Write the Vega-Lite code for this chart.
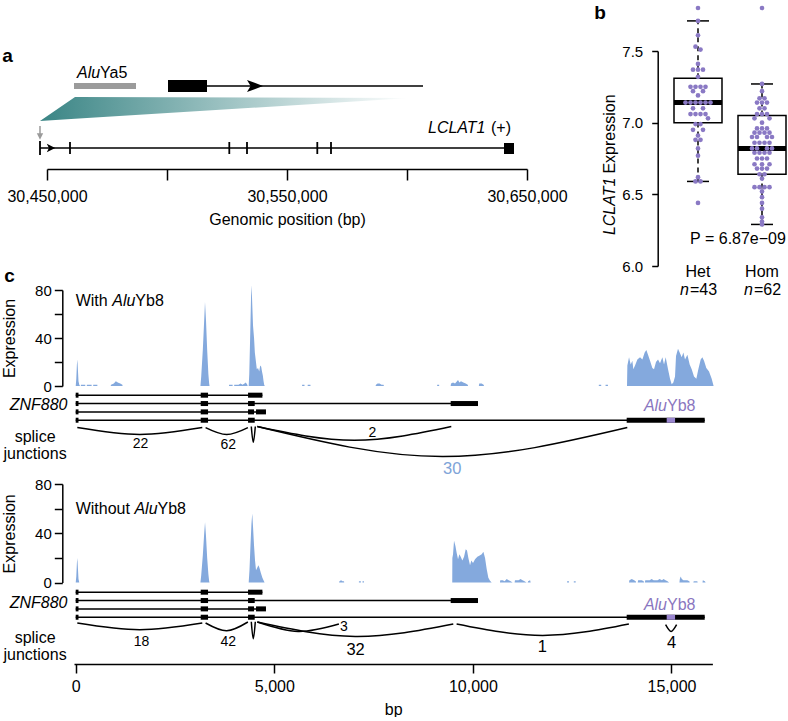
{
  "$schema": "https://vega.github.io/schema/vega-lite/v6.json",
  "padding": {"left": 1, "top": 4, "right": 0, "bottom": 0},
  "config": {
    "font": "Liberation Sans",
    "view": {"stroke": null},
    "axis": {
      "domainColor": "#000000", "tickColor": "#000000", "labelColor": "#000000", "titleColor": "#000000",
      "grid": false, "domainWidth": 1.5, "tickWidth": 1.5,
      "labelFontSize": 16, "titleFontSize": 16, "titleFontWeight": "normal",
      "labelFont": "Liberation Sans", "titleFont": "Liberation Sans", "labelFlush": false, "labelOverlap": false
    },
    "text": {"font": "Liberation Sans", "fontSize": 16, "color": "#000000"}
  },
  "datasets": {
    "cov1": [
      {"bp":0,"v":0},{"bp":15,"v":6},{"bp":30,"v":18},{"bp":42,"v":22},{"bp":55,"v":14},{"bp":70,"v":4},{"bp":90,"v":1},{"bp":110,"v":0},
      {"bp":130,"v":0},{"bp":131,"v":1},{"bp":240,"v":1},{"bp":241,"v":0},{"bp":280,"v":0},{"bp":281,"v":1},{"bp":400,"v":1},{"bp":401,"v":0},{"bp":440,"v":0},{"bp":441,"v":1},{"bp":545,"v":1},{"bp":546,"v":0},
      {"bp":880,"v":0},{"bp":890,"v":1},{"bp":960,"v":2},{"bp":1010,"v":4},{"bp":1060,"v":3},{"bp":1120,"v":2},{"bp":1175,"v":1},{"bp":1180,"v":0},
      {"bp":3140,"v":0},{"bp":3160,"v":8},{"bp":3200,"v":30},{"bp":3235,"v":55},{"bp":3255,"v":70},{"bp":3280,"v":55},{"bp":3310,"v":30},{"bp":3340,"v":10},{"bp":3360,"v":2},{"bp":3370,"v":0},
      {"bp":3860,"v":0},{"bp":3861,"v":1},{"bp":3950,"v":1},{"bp":3951,"v":0},{"bp":3990,"v":0},{"bp":3991,"v":1},{"bp":4100,"v":1},{"bp":4150,"v":2},{"bp":4200,"v":1},{"bp":4250,"v":2},{"bp":4280,"v":3},{"bp":4300,"v":2},{"bp":4320,"v":1},{"bp":4330,"v":0},
      {"bp":4355,"v":0},{"bp":4370,"v":10},{"bp":4395,"v":45},{"bp":4415,"v":75},{"bp":4428,"v":84},{"bp":4445,"v":68},{"bp":4465,"v":50},{"bp":4490,"v":40},{"bp":4510,"v":28},{"bp":4531,"v":22},{"bp":4560,"v":14},{"bp":4590,"v":15},{"bp":4620,"v":12},{"bp":4645,"v":17},{"bp":4670,"v":16},{"bp":4690,"v":12},{"bp":4710,"v":9},{"bp":4730,"v":4},{"bp":4745,"v":1},{"bp":4760,"v":0},
      {"bp":5700,"v":0},{"bp":5701,"v":1},{"bp":5760,"v":1},{"bp":5761,"v":0},{"bp":5840,"v":0},{"bp":5841,"v":1},{"bp":5910,"v":1},{"bp":5911,"v":0},
      {"bp":7550,"v":0},{"bp":7560,"v":1},{"bp":7600,"v":2},{"bp":7650,"v":2},{"bp":7700,"v":1},{"bp":7750,"v":1},{"bp":7760,"v":0},
      {"bp":9100,"v":0},{"bp":9101,"v":1},{"bp":9150,"v":1},{"bp":9151,"v":0},
      {"bp":9440,"v":0},{"bp":9450,"v":2},{"bp":9500,"v":3},{"bp":9550,"v":2},{"bp":9600,"v":4},{"bp":9625,"v":5},{"bp":9660,"v":3},{"bp":9700,"v":4},{"bp":9760,"v":3},{"bp":9820,"v":2},{"bp":9870,"v":1},{"bp":9880,"v":0},
      {"bp":10150,"v":0},{"bp":10160,"v":2},{"bp":10220,"v":2},{"bp":10270,"v":1},{"bp":10280,"v":0},
      {"bp":13170,"v":0},{"bp":13171,"v":1},{"bp":13230,"v":1},{"bp":13231,"v":0},{"bp":13340,"v":0},{"bp":13341,"v":1},{"bp":13400,"v":1},{"bp":13401,"v":0},
      {"bp":13880,"v":0},{"bp":13889,"v":17},{"bp":13931,"v":24},{"bp":13973,"v":18},{"bp":14015,"v":21},{"bp":14040,"v":14},{"bp":14082,"v":17},{"bp":14141,"v":22},{"bp":14208,"v":24},{"bp":14267,"v":22},{"bp":14325,"v":28},{"bp":14367,"v":30},{"bp":14409,"v":26},{"bp":14460,"v":21},{"bp":14518,"v":15},{"bp":14560,"v":14},{"bp":14610,"v":20},{"bp":14661,"v":22},{"bp":14711,"v":19},{"bp":14770,"v":24},{"bp":14812,"v":18},{"bp":14854,"v":24},{"bp":14913,"v":14},{"bp":14963,"v":6},{"bp":15005,"v":1.5},{"bp":15047,"v":3},{"bp":15089,"v":8},{"bp":15114,"v":25},{"bp":15164,"v":31},{"bp":15206,"v":28},{"bp":15257,"v":24},{"bp":15299,"v":28},{"bp":15341,"v":22},{"bp":15400,"v":26},{"bp":15458,"v":18},{"bp":15509,"v":14},{"bp":15567,"v":8},{"bp":15626,"v":6},{"bp":15676,"v":14},{"bp":15735,"v":22},{"bp":15777,"v":24},{"bp":15819,"v":21},{"bp":15877,"v":15},{"bp":15945,"v":12},{"bp":16012,"v":6},{"bp":16060,"v":0}
    ],
    "cov2": [
      {"bp":0,"v":0},{"bp":15,"v":5},{"bp":30,"v":16},{"bp":42,"v":20},{"bp":55,"v":12},{"bp":70,"v":3},{"bp":90,"v":0},
      {"bp":3140,"v":0},{"bp":3160,"v":6},{"bp":3200,"v":22},{"bp":3235,"v":40},{"bp":3256,"v":49},{"bp":3280,"v":38},{"bp":3310,"v":20},{"bp":3340,"v":7},{"bp":3360,"v":1},{"bp":3370,"v":0},
      {"bp":4355,"v":0},{"bp":4375,"v":10},{"bp":4400,"v":30},{"bp":4425,"v":48},{"bp":4445,"v":56},{"bp":4465,"v":45},{"bp":4490,"v":30},{"bp":4515,"v":18},{"bp":4540,"v":10},{"bp":4570,"v":12},{"bp":4600,"v":14},{"bp":4625,"v":12},{"bp":4660,"v":8},{"bp":4700,"v":4},{"bp":4740,"v":1},{"bp":4755,"v":0},
      {"bp":6630,"v":0},{"bp":6640,"v":1},{"bp":6680,"v":2},{"bp":6720,"v":1},{"bp":6755,"v":1},{"bp":6760,"v":0},{"bp":7130,"v":0},{"bp":7131,"v":1},{"bp":7180,"v":1},{"bp":7181,"v":0},{"bp":7220,"v":0},{"bp":7221,"v":1},{"bp":7258,"v":1},{"bp":7259,"v":0},
      {"bp":9480,"v":0},{"bp":9483,"v":20},{"bp":9500,"v":23},{"bp":9525,"v":34},{"bp":9559,"v":30},{"bp":9592,"v":24},{"bp":9626,"v":19},{"bp":9659,"v":23},{"bp":9693,"v":21},{"bp":9735,"v":18},{"bp":9777,"v":21},{"bp":9819,"v":27},{"bp":9852,"v":26},{"bp":9886,"v":20},{"bp":9928,"v":14},{"bp":9961,"v":18},{"bp":10003,"v":16},{"bp":10054,"v":19},{"bp":10112,"v":21},{"bp":10171,"v":22},{"bp":10222,"v":23},{"bp":10264,"v":25},{"bp":10306,"v":20},{"bp":10347,"v":11},{"bp":10389,"v":4},{"bp":10431,"v":1.5},{"bp":10473,"v":0},
      {"bp":10680,"v":0},{"bp":10690,"v":2},{"bp":10750,"v":2},{"bp":10800,"v":1},{"bp":10850,"v":3},{"bp":10900,"v":2},{"bp":10950,"v":1},{"bp":11000,"v":0},{"bp":11050,"v":0},{"bp":11060,"v":2},{"bp":11150,"v":2},{"bp":11200,"v":3},{"bp":11250,"v":2},{"bp":11300,"v":1},{"bp":11350,"v":0},{"bp":11380,"v":0},{"bp":11390,"v":1},{"bp":11440,"v":2},{"bp":11455,"v":0},
      {"bp":12370,"v":0},{"bp":12371,"v":1},{"bp":12420,"v":1},{"bp":12421,"v":0},{"bp":12540,"v":0},{"bp":12541,"v":1},{"bp":12588,"v":1},{"bp":12589,"v":0},
      {"bp":13930,"v":0},{"bp":13940,"v":2},{"bp":14000,"v":3},{"bp":14060,"v":2},{"bp":14100,"v":1},{"bp":14110,"v":0},{"bp":14150,"v":0},{"bp":14160,"v":2},{"bp":14250,"v":2},{"bp":14300,"v":1},{"bp":14310,"v":0},{"bp":14330,"v":0},{"bp":14340,"v":2},{"bp":14450,"v":2},{"bp":14500,"v":3},{"bp":14550,"v":2},{"bp":14650,"v":2},{"bp":14700,"v":3},{"bp":14760,"v":2},{"bp":14800,"v":3},{"bp":14850,"v":2},{"bp":14900,"v":1},{"bp":14940,"v":0},
      {"bp":15200,"v":0},{"bp":15210,"v":3},{"bp":15231,"v":5},{"bp":15260,"v":3},{"bp":15300,"v":2},{"bp":15400,"v":2},{"bp":15450,"v":1},{"bp":15460,"v":0},{"bp":15550,"v":0},{"bp":15560,"v":1},{"bp":15650,"v":1},{"bp":15660,"v":0},{"bp":15780,"v":0},{"bp":15790,"v":2},{"bp":15840,"v":1},{"bp":15860,"v":0}
    ],
    "genes": [
      {"tx":1,"s":0,"e":4700},{"tx":2,"s":0,"e":10128},{"tx":3,"s":0,"e":4790},{"tx":4,"s":0,"e":15836}
    ],
    "exons": [
      {"tx":1,"s":0,"e":70,"kind":"exon"},{"tx":1,"s":3147,"e":3332,"kind":"exon"},{"tx":1,"s":4339,"e":4700,"kind":"exon"},
      {"tx":2,"s":0,"e":70,"kind":"exon"},{"tx":2,"s":3147,"e":3332,"kind":"exon"},{"tx":2,"s":4339,"e":4507,"kind":"exon"},{"tx":2,"s":9441,"e":10128,"kind":"exon"},
      {"tx":3,"s":0,"e":70,"kind":"exon"},{"tx":3,"s":3147,"e":3332,"kind":"exon"},{"tx":3,"s":4339,"e":4490,"kind":"exon"},{"tx":3,"s":4540,"e":4790,"kind":"exon"},
      {"tx":4,"s":0,"e":70,"kind":"exon"},{"tx":4,"s":3147,"e":3332,"kind":"exon"},{"tx":4,"s":4339,"e":4507,"kind":"exon"},{"tx":4,"s":13872,"e":15836,"kind":"exon"},
      {"tx":4,"s":14879,"e":15090,"kind":"alu"}
    ],
    "j1": [
      {"j":"22","bp":40,"d":-1.4},{"j":"22","bp":1613,"d":5.5},{"j":"22","bp":3187,"d":-1.4},
      {"j":"62","bp":3270,"d":-1.4},{"j":"62","bp":3802,"d":5.5},{"j":"62","bp":4335,"d":-1.4},
      {"j":"v","bp":4421,"d":-2.5},{"j":"v","bp":4471,"d":13.3},{"j":"v","bp":4522,"d":-2.5},
      {"j":"2","bp":4572,"d":-2.4},{"j":"2","bp":7014,"d":11.3},{"j":"2","bp":9456,"d":-2.4},
      {"j":"30","bp":4572,"d":-2.4},{"j":"30","bp":9229,"d":27.6},{"j":"30","bp":13887,"d":-1.4}
    ],
    "j2": [
      {"j":"18","bp":40,"d":-3},{"j":"18","bp":1613,"d":3.7},{"j":"18","bp":3187,"d":-3},
      {"j":"42","bp":3270,"d":-3},{"j":"42","bp":3802,"d":4.7},{"j":"42","bp":4335,"d":-4},
      {"j":"v","bp":4421,"d":-4.3},{"j":"v","bp":4471,"d":12.7},{"j":"v","bp":4522,"d":-4.3},
      {"j":"3","bp":4572,"d":-4},{"j":"3","bp":5600,"d":5.4},{"j":"3","bp":6626,"d":-2},
      {"j":"32","bp":4572,"d":-4},{"j":"32","bp":7039,"d":10.4},{"j":"32","bp":9506,"d":-2},
      {"j":"1","bp":9590,"d":-2},{"j":"1","bp":11758,"d":9.4},{"j":"1","bp":13927,"d":-2},
      {"j":"4","bp":14852,"d":-1.3},{"j":"4","bp":14990,"d":5.4},{"j":"4","bp":15129,"d":-1.3}
    ],
    "jl1": [
      {"bp":1634,"d":15.3,"n":22,"grp":"s"},{"bp":3842,"d":16.3,"n":62,"grp":"s"},{"bp":7467,"d":4.3,"n":2,"grp":"s"},{"bp":9481,"d":39.6,"n":30,"grp":"h"}
    ],
    "jl2": [
      {"bp":1659,"d":16,"n":18,"grp":"s"},{"bp":3842,"d":16,"n":42,"grp":"s"},{"bp":6752,"d":1.4,"n":3,"grp":"s"},{"bp":7047,"d":23.7,"n":32,"grp":"b"},{"bp":11747,"d":21,"n":1,"grp":"b"},{"bp":15003,"d":17,"n":4,"grp":"b"}
    ],
    "box": [
      {"geno":"Het","lo":6.59,"q1":7.0,"med":7.14,"q3":7.31,"hi":7.71,"nlab":"=43"},
      {"geno":"Hom","lo":6.29,"q1":6.64,"med":6.82,"q3":7.05,"hi":7.27,"nlab":"=62"}
    ],
    "expr": [
      {"geno":"Het","v":7.80,"slot":0},{"geno":"Het","v":7.71,"slot":0},{"geno":"Het","v":7.61,"slot":0},
      {"geno":"Het","v":7.53,"slot":-0.5},{"geno":"Het","v":7.51,"slot":0.5},{"geno":"Het","v":7.41,"slot":0},
      {"geno":"Het","v":7.37,"slot":-1},{"geno":"Het","v":7.37,"slot":0},{"geno":"Het","v":7.37,"slot":1},
      {"geno":"Het","v":7.32,"slot":0},
      {"geno":"Het","v":7.25,"slot":-1.5},{"geno":"Het","v":7.25,"slot":-0.5},{"geno":"Het","v":7.25,"slot":0.5},{"geno":"Het","v":7.25,"slot":1.5},
      {"geno":"Het","v":7.22,"slot":-1},{"geno":"Het","v":7.22,"slot":1},{"geno":"Het","v":7.19,"slot":0},
      {"geno":"Het","v":7.14,"slot":-2.5},{"geno":"Het","v":7.14,"slot":-1.5},{"geno":"Het","v":7.14,"slot":-0.5},{"geno":"Het","v":7.14,"slot":0.5},{"geno":"Het","v":7.14,"slot":1.5},{"geno":"Het","v":7.14,"slot":2.5},
      {"geno":"Het","v":7.10,"slot":-1},{"geno":"Het","v":7.10,"slot":1},
      {"geno":"Het","v":7.06,"slot":-1.5},{"geno":"Het","v":7.06,"slot":-0.5},{"geno":"Het","v":7.06,"slot":0.5},{"geno":"Het","v":7.06,"slot":1.5},
      {"geno":"Het","v":7.03,"slot":2},{"geno":"Het","v":6.99,"slot":-0.5},{"geno":"Het","v":6.99,"slot":0.5},
      {"geno":"Het","v":6.95,"slot":-1},{"geno":"Het","v":6.95,"slot":1},{"geno":"Het","v":6.91,"slot":0},
      {"geno":"Het","v":6.88,"slot":-0.5},{"geno":"Het","v":6.88,"slot":0.5},{"geno":"Het","v":6.82,"slot":0},
      {"geno":"Het","v":6.77,"slot":0},{"geno":"Het","v":6.62,"slot":0},{"geno":"Het","v":6.59,"slot":-0.5},{"geno":"Het","v":6.59,"slot":0.5},
      {"geno":"Het","v":6.44,"slot":0},
      {"geno":"Hom","v":7.80,"slot":0},{"geno":"Hom","v":7.27,"slot":0},{"geno":"Hom","v":7.22,"slot":0},
      {"geno":"Hom","v":7.17,"slot":-0.5},{"geno":"Hom","v":7.17,"slot":0.5},
      {"geno":"Hom","v":7.14,"slot":-1},{"geno":"Hom","v":7.14,"slot":0},{"geno":"Hom","v":7.14,"slot":1},
      {"geno":"Hom","v":7.10,"slot":-0.5},{"geno":"Hom","v":7.10,"slot":0.5},
      {"geno":"Hom","v":7.06,"slot":-1},{"geno":"Hom","v":7.06,"slot":0},{"geno":"Hom","v":7.06,"slot":1},
      {"geno":"Hom","v":7.03,"slot":-1.5},{"geno":"Hom","v":7.03,"slot":1.5},{"geno":"Hom","v":7.00,"slot":0},
      {"geno":"Hom","v":6.96,"slot":-1},{"geno":"Hom","v":6.96,"slot":0},{"geno":"Hom","v":6.96,"slot":1},
      {"geno":"Hom","v":6.93,"slot":-1.5},{"geno":"Hom","v":6.93,"slot":-0.5},{"geno":"Hom","v":6.93,"slot":0.5},{"geno":"Hom","v":6.93,"slot":1.5},
      {"geno":"Hom","v":6.90,"slot":-2},{"geno":"Hom","v":6.90,"slot":-1},{"geno":"Hom","v":6.90,"slot":1},{"geno":"Hom","v":6.90,"slot":2},
      {"geno":"Hom","v":6.86,"slot":-1.5},{"geno":"Hom","v":6.86,"slot":-0.5},{"geno":"Hom","v":6.86,"slot":0.5},{"geno":"Hom","v":6.86,"slot":1.5},
      {"geno":"Hom","v":6.82,"slot":-2},{"geno":"Hom","v":6.82,"slot":-1},{"geno":"Hom","v":6.82,"slot":1},{"geno":"Hom","v":6.82,"slot":2},
      {"geno":"Hom","v":6.79,"slot":-1.5},{"geno":"Hom","v":6.79,"slot":-0.5},{"geno":"Hom","v":6.79,"slot":0.5},{"geno":"Hom","v":6.79,"slot":1.5},
      {"geno":"Hom","v":6.75,"slot":-1},{"geno":"Hom","v":6.75,"slot":0},{"geno":"Hom","v":6.75,"slot":1},
      {"geno":"Hom","v":6.71,"slot":-1.5},{"geno":"Hom","v":6.71,"slot":0},{"geno":"Hom","v":6.71,"slot":1.5},
      {"geno":"Hom","v":6.68,"slot":-1},{"geno":"Hom","v":6.68,"slot":0},{"geno":"Hom","v":6.68,"slot":1},
      {"geno":"Hom","v":6.64,"slot":-0.5},{"geno":"Hom","v":6.64,"slot":0.5},{"geno":"Hom","v":6.61,"slot":0},
      {"geno":"Hom","v":6.55,"slot":-1.5},{"geno":"Hom","v":6.55,"slot":-0.5},{"geno":"Hom","v":6.55,"slot":0.5},{"geno":"Hom","v":6.55,"slot":1.5},
      {"geno":"Hom","v":6.52,"slot":0},{"geno":"Hom","v":6.48,"slot":0},{"geno":"Hom","v":6.44,"slot":0},{"geno":"Hom","v":6.40,"slot":0},
      {"geno":"Hom","v":6.34,"slot":0},{"geno":"Hom","v":6.31,"slot":0},{"geno":"Hom","v":6.29,"slot":0}
    ]
  },
  "vconcat": [
    {
      "hconcat": [
        {
          "width": 480, "height": 118,
          "encoding": {
            "x": {"field": "g", "type": "quantitative",
                  "scale": {"domain": [30450000, 30650000], "nice": false, "zero": false},
                  "axis": {"values": [30450000, 30500000, 30550000, 30600000, 30650000], "format": ",d",
                           "labelExpr": "datum.value % 100000 === 50000 ? datum.label : ''",
                           "tickSize": 11, "labelPadding": 8, "title": "Genomic position (bp)", "titlePadding": 7}},
            "y": {"field": "y", "type": "quantitative", "scale": {"domain": [0, 118], "nice": false, "zero": false}, "axis": null}
          },
          "layer": [
            {"data": {"values": [{"g": 30447083, "y": 48, "y2": 48}, {"g": 30461667, "y": 72, "y2": 50.2}, {"g": 30601250, "y": 71, "y2": 71}]},
             "mark": {"type": "area", "orient": "vertical", "interpolate": "linear",
                      "color": {"gradient": "linear", "stops": [{"offset": 0, "color": "#3a8585"}, {"offset": 1, "color": "#ffffff"}]}},
             "encoding": {"y2": {"field": "y2"}}},
            {"data": {"values": [{"g": 30447083, "g2": 30640420, "y": 21}]},
             "mark": {"type": "rule", "strokeWidth": 1.5, "color": "#000000"},
             "encoding": {"x2": {"field": "g2"}}},
            {"data": {"values": [{"g": 30447083, "y": 14, "y2": 28}, {"g": 30459583, "y": 15, "y2": 27}, {"g": 30525958, "y": 15, "y2": 27}, {"g": 30533333, "y": 15, "y2": 27}, {"g": 30562625, "y": 15, "y2": 27}, {"g": 30568333, "y": 15, "y2": 27}]},
             "mark": {"type": "rule", "strokeWidth": 1.8, "color": "#000000"},
             "encoding": {"y2": {"field": "y2"}}},
            {"data": {"values": [{"g": 30640420, "g2": 30644580, "y": 15, "y2": 26}]},
             "mark": {"type": "rect", "color": "#000000"},
             "encoding": {"x2": {"field": "g2"}, "y2": {"field": "y2"}}},
            {"data": {"values": [{"g": 30451670, "y": 21}]},
             "mark": {"type": "point", "shape": "M-1,-1L1,0L-1,1L-0.5,0Z", "size": 70, "filled": true, "color": "#000000", "opacity": 1}},
            {"data": {"values": [{"g": 30447083, "y": 43, "y2": 34}]},
             "mark": {"type": "rule", "strokeWidth": 1.5, "color": "#9b9b9b"},
             "encoding": {"y2": {"field": "y2"}}},
            {"data": {"values": [{"g": 30447083, "y": 32.5}]},
             "mark": {"type": "point", "shape": "M-1,-1L1,-1L0,1Z", "size": 40, "filled": true, "color": "#9b9b9b", "opacity": 1}},
            {"data": {"values": [{"g": 30461250, "g2": 30487083, "y": 83}]},
             "mark": {"type": "rule", "strokeWidth": 6, "color": "#9b9b9b", "strokeCap": "butt"},
             "encoding": {"x2": {"field": "g2"}}},
            {"data": {"values": [{"g": 30516667, "g2": 30606667, "y": 83}]},
             "mark": {"type": "rule", "strokeWidth": 1.5, "color": "#000000"},
             "encoding": {"x2": {"field": "g2"}}},
            {"data": {"values": [{"g": 30500417, "g2": 30516667, "y": 77, "y2": 89}]},
             "mark": {"type": "rect", "color": "#000000"},
             "encoding": {"x2": {"field": "g2"}, "y2": {"field": "y2"}}},
            {"data": {"values": [{"g": 30536667, "y": 83}]},
             "mark": {"type": "point", "shape": "M-1,-0.75L1,0L-1,0.75L-0.55,0Z", "size": 256, "filled": true, "color": "#000000", "opacity": 1}},
            {"data": {"values": [{"g": 30462500, "y": 96}]},
             "mark": {"type": "text", "text": "Alu", "fontStyle": "italic", "align": "left", "baseline": "middle", "fontSize": 16}},
            {"data": {"values": [{"g": 30462500, "y": 96}]},
             "mark": {"type": "text", "text": "Ya5", "align": "left", "baseline": "middle", "fontSize": 16, "dx": 23.1}},
            {"data": {"values": [{"g": 30608750, "y": 41}]},
             "mark": {"type": "text", "text": "LCLAT1", "fontStyle": "italic", "align": "left", "baseline": "middle", "fontSize": 16}},
            {"data": {"values": [{"g": 30608750, "y": 41}]},
             "mark": {"type": "text", "text": "(+)", "align": "left", "baseline": "middle", "fontSize": 16, "dx": 63}},
            {"data": {"values": [{"g": 30433542, "y": 113}]},
             "mark": {"type": "text", "text": "a", "fontWeight": "bold", "align": "center", "baseline": "middle", "fontSize": 19}}
          ]
        },
        {
          "width": 125, "height": 215,
          "encoding": {
            "x": {"field": "geno", "type": "nominal",
                  "scale": {"type": "band", "domain": ["Het", "Hom"], "paddingInner": 0.375, "paddingOuter": 0.164, "align": 0.762, "round": false},
                  "axis": {"title": null, "domain": false, "ticks": false, "labelPadding": -2.5, "labelAngle": 0, "labelFontSize": 16}}
          },
          "layer": [
            {"data": {"name": "box"},
             "mark": {"type": "rule", "strokeDash": [5, 4], "strokeWidth": 1.5, "color": "#000000"},
             "encoding": {"y": {"field": "q3", "type": "quantitative", "scale": {"domain": [6, 7.5], "nice": false, "zero": false}, "axis": {"values": [6, 6.5, 7, 7.5], "format": ".1f", "offset": 4.3, "tickSize": 6, "labelPadding": 9, "labelFontSize": 15, "title": null}}, "y2": {"field": "hi"}}},
            {"data": {"name": "box"},
             "mark": {"type": "rule", "strokeDash": [5, 4], "strokeWidth": 1.5, "color": "#000000"},
             "encoding": {"y": {"field": "lo", "type": "quantitative", "scale": {"domain": [6, 7.5], "nice": false, "zero": false}, "axis": {"values": [6, 6.5, 7, 7.5], "format": ".1f", "offset": 4.3, "tickSize": 6, "labelPadding": 9, "labelFontSize": 15, "title": null}}, "y2": {"field": "q1"}}},
            {"data": {"name": "box"},
             "mark": {"type": "bar", "width": 48, "fill": "#ffffff", "fillOpacity": 0, "stroke": "#000000", "strokeWidth": 1.5},
             "encoding": {"y": {"field": "q1", "type": "quantitative", "scale": {"domain": [6, 7.5], "nice": false, "zero": false}, "axis": {"values": [6, 6.5, 7, 7.5], "format": ".1f", "offset": 4.3, "tickSize": 6, "labelPadding": 9, "labelFontSize": 15, "title": null}}, "y2": {"field": "q3"}}},
            {"data": {"name": "box"},
             "mark": {"type": "tick", "size": 22, "thickness": 1.5, "color": "#000000", "opacity": 1},
             "encoding": {"y": {"field": "hi", "type": "quantitative", "scale": {"domain": [6, 7.5], "nice": false, "zero": false}, "axis": {"values": [6, 6.5, 7, 7.5], "format": ".1f", "offset": 4.3, "tickSize": 6, "labelPadding": 9, "labelFontSize": 15, "title": null}}}},
            {"data": {"name": "box"},
             "mark": {"type": "tick", "size": 22, "thickness": 1.5, "color": "#000000", "opacity": 1},
             "encoding": {"y": {"field": "lo", "type": "quantitative", "scale": {"domain": [6, 7.5], "nice": false, "zero": false}, "axis": {"values": [6, 6.5, 7, 7.5], "format": ".1f", "offset": 4.3, "tickSize": 6, "labelPadding": 9, "labelFontSize": 15, "title": null}}}},
            {"data": {"name": "box"},
             "mark": {"type": "tick", "size": 48, "thickness": 5, "color": "#000000", "opacity": 1},
             "encoding": {"y": {"field": "med", "type": "quantitative", "scale": {"domain": [6, 7.5], "nice": false, "zero": false}, "axis": {"values": [6, 6.5, 7, 7.5], "format": ".1f", "offset": 4.3, "tickSize": 6, "labelPadding": 9, "labelFontSize": 15, "title": null}}}},
            {"data": {"name": "expr"},
             "mark": {"type": "point", "filled": true, "size": 22, "color": "#8a79c4", "opacity": 1, "strokeWidth": 0},
             "encoding": {
               "y": {"field": "v", "type": "quantitative", "scale": {"domain": [6, 7.5], "nice": false, "zero": false},
                     "axis": {"values": [6, 6.5, 7, 7.5], "format": ".1f", "offset": 4.3, "tickSize": 6, "labelPadding": 9, "labelFontSize": 15, "title": null}},
               "xOffset": {"field": "slot", "type": "quantitative", "scale": {"domain": [-4, 4], "nice": false, "zero": false}}
             }},
            {"data": {"name": "box"},
             "mark": {"type": "text", "text": "n", "fontStyle": "italic", "align": "right", "baseline": "middle", "fontSize": 16, "dx": -9},
             "encoding": {"y": {"datum": 5.832, "type": "quantitative", "scale": {"domain": [6, 7.5], "nice": false, "zero": false}, "axis": {"values": [6, 6.5, 7, 7.5], "format": ".1f", "offset": 4.3, "tickSize": 6, "labelPadding": 9, "labelFontSize": 15, "title": null}}}},
            {"data": {"name": "box"},
             "mark": {"type": "text", "align": "left", "baseline": "middle", "fontSize": 16, "dx": -8},
             "encoding": {"text": {"field": "nlab"}, "y": {"datum": 5.832, "type": "quantitative", "scale": {"domain": [6, 7.5], "nice": false, "zero": false}, "axis": {"values": [6, 6.5, 7, 7.5], "format": ".1f", "offset": 4.3, "tickSize": 6, "labelPadding": 9, "labelFontSize": 15, "title": null}}}},
            {"data": {"values": [{}]},
             "mark": {"type": "text", "text": "P = 6.87e\u221209", "align": "center", "baseline": "middle", "fontSize": 16, "dx": -24},
             "encoding": {"x": {"datum": "Hom", "type": "nominal"}, "y": {"datum": 6.185, "type": "quantitative", "scale": {"domain": [6, 7.5], "nice": false, "zero": false}, "axis": {"values": [6, 6.5, 7, 7.5], "format": ".1f", "offset": 4.3, "tickSize": 6, "labelPadding": 9, "labelFontSize": 15, "title": null}}}},
            {"data": {"values": [{}]},
             "mark": {"type": "text", "text": "b", "fontWeight": "bold", "align": "center", "baseline": "middle", "fontSize": 19, "dx": -98},
             "encoding": {"x": {"datum": "Het", "type": "nominal"}, "y": {"datum": 7.763, "type": "quantitative", "scale": {"domain": [6, 7.5], "nice": false, "zero": false}, "axis": {"values": [6, 6.5, 7, 7.5], "format": ".1f", "offset": 4.3, "tickSize": 6, "labelPadding": 9, "labelFontSize": 15, "title": null}}}},
            {"data": {"values": [{}]},
             "mark": {"type": "text", "text": "LCLAT1", "fontStyle": "italic", "angle": 270, "align": "right", "baseline": "middle", "fontSize": 16, "dy": -88},
             "encoding": {"x": {"datum": "Het", "type": "nominal"}, "y": {"datum": 6.617, "type": "quantitative", "scale": {"domain": [6, 7.5], "nice": false, "zero": false}, "axis": {"values": [6, 6.5, 7, 7.5], "format": ".1f", "offset": 4.3, "tickSize": 6, "labelPadding": 9, "labelFontSize": 15, "title": null}}}},
            {"data": {"values": [{}]},
             "mark": {"type": "text", "text": "Expression", "angle": 270, "align": "left", "baseline": "middle", "fontSize": 16, "dy": -88, "dx": 4},
             "encoding": {"x": {"datum": "Het", "type": "nominal"}, "y": {"datum": 6.617, "type": "quantitative", "scale": {"domain": [6, 7.5], "nice": false, "zero": false}, "axis": {"values": [6, 6.5, 7, 7.5], "format": ".1f", "offset": 4.3, "tickSize": 6, "labelPadding": 9, "labelFontSize": 15, "title": null}}}}
          ]
        }
      ],
      "spacing": 135,
      "bounds": "flush",
      "resolve": {"scale": {"x": "independent", "y": "independent"}}
    },
    {
      "hconcat": [
        {"width": 26.4, "height": 1, "data": {"values": []}, "mark": "point"},
        {
          "vconcat": [
            {
              "width": 638.4, "height": 96,
              "encoding": {
                "x": {"field": "bp", "type": "quantitative", "scale": {"domain": [-43, 16030], "nice": false, "zero": false}, "axis": null},
                "y": {"field": "v", "type": "quantitative", "scale": {"domain": [0, 80], "nice": false, "zero": false},
                      "axis": {"values": [0, 20, 40, 60, 80], "labelExpr": "datum.value % 40 === 0 ? datum.label : ''", "offset": 11.7, "tickSize": 8, "labelPadding": 3, "labelFontSize": 15, "title": "Expression", "titlePadding": 17}}
              },
              "layer": [
                {"data": {"name": "cov1"},
                 "mark": {"type": "area", "color": "#84a9dd", "interpolate": "linear"}},
                {"data": {"values": [{"bp": 0, "v": 71}]},
                 "mark": {"type": "text", "text": "With", "align": "left", "baseline": "middle", "fontSize": 16}},
                {"data": {"values": [{"bp": 0, "v": 71}]},
                 "mark": {"type": "text", "text": "Alu", "fontStyle": "italic", "align": "left", "baseline": "middle", "fontSize": 16, "dx": 36.5}},
                {"data": {"values": [{"bp": 0, "v": 71}]},
                 "mark": {"type": "text", "text": "Yb8", "align": "left", "baseline": "middle", "fontSize": 16, "dx": 59.6}},
                {"data": {"values": [{"bp": -1664, "v": 91.4}]},
                 "mark": {"type": "text", "text": "c", "fontWeight": "bold", "align": "center", "baseline": "middle", "fontSize": 19}}
              ]
            },
            {
              "width": 638.4, "height": 43,
              "encoding": {
                "x": {"field": "s", "type": "quantitative", "scale": {"domain": [-43, 16030], "nice": false, "zero": false}, "axis": null},
                "y": {"field": "tx", "type": "quantitative", "scale": {"domain": [-0.1, 5.05], "nice": false, "zero": false, "reverse": true},
                      "axis": {"title": "ZNF880", "titleAngle": 0, "titleFontStyle": "italic", "titleAlign": "right", "titleBaseline": "middle", "titleX": -7, "titleY": 18.5, "labels": false, "ticks": false, "domain": false}}
              },
              "layer": [
                {"data": {"name": "genes"},
                 "mark": {"type": "rule", "strokeWidth": 1.5, "color": "#000000"},
                 "encoding": {"x2": {"field": "e"}}},
                {"data": {"name": "exons"},
                 "transform": [{"filter": "datum.kind === 'exon'"}],
                 "mark": {"type": "rule", "strokeWidth": 5, "color": "#000000", "strokeCap": "butt"},
                 "encoding": {"x2": {"field": "e"}}},
                {"data": {"name": "exons"},
                 "transform": [{"filter": "datum.kind === 'alu'"}],
                 "mark": {"type": "rule", "strokeWidth": 5, "color": "#9a86cf", "strokeCap": "butt"},
                 "encoding": {"x2": {"field": "e"}}},
                {"data": {"values": [{"s": 14305, "tx": 2.3}]},
                 "mark": {"type": "text", "text": "Alu", "fontStyle": "italic", "align": "left", "baseline": "middle", "fontSize": 16, "color": "#8a76c0"}},
                {"data": {"values": [{"s": 14305, "tx": 2.3}]},
                 "mark": {"type": "text", "text": "Yb8", "align": "left", "baseline": "middle", "fontSize": 16, "color": "#8a76c0", "dx": 23.1}}
              ]
            },
            {
              "width": 638.4, "height": 55,
              "encoding": {
                "x": {"field": "bp", "type": "quantitative", "scale": {"domain": [-43, 16030], "nice": false, "zero": false}, "axis": null},
                "y": {"field": "d", "type": "quantitative", "scale": {"domain": [0, 55], "nice": false, "zero": false, "reverse": true},
                      "axis": {"title": ["splice", "junctions"], "titleAngle": 0, "titleAlign": "center", "titleBaseline": "top", "titleX": -39.4, "titleY": -1, "titleLineHeight": 17.6, "labels": false, "ticks": false, "domain": false}}
              },
              "layer": [
                {"data": {"name": "j1"},
                 "mark": {"type": "line", "interpolate": "natural", "color": "#000000", "strokeWidth": 1.5},
                 "encoding": {"detail": {"field": "j", "type": "nominal"}}},
                {"data": {"name": "jl1"},
                 "transform": [{"filter": "datum.grp === 's'"}],
                 "mark": {"type": "text", "align": "center", "baseline": "middle", "fontSize": 14},
                 "encoding": {"text": {"field": "n"}}},
                {"data": {"name": "jl1"},
                 "transform": [{"filter": "datum.grp === 'h'"}],
                 "mark": {"type": "text", "align": "center", "baseline": "middle", "fontSize": 16.5, "color": "#7ea4d8"},
                 "encoding": {"text": {"field": "n"}}}
              ]
            },
            {
              "width": 638.4, "height": 98.6,
              "encoding": {
                "x": {"field": "bp", "type": "quantitative", "scale": {"domain": [-43, 16030], "nice": false, "zero": false}, "axis": null},
                "y": {"field": "v", "type": "quantitative", "scale": {"domain": [0, 80], "nice": false, "zero": false},
                      "axis": {"values": [0, 20, 40, 60, 80], "labelExpr": "datum.value % 40 === 0 ? datum.label : ''", "offset": 11.7, "tickSize": 8, "labelPadding": 3, "labelFontSize": 15, "title": "Expression", "titlePadding": 17}}
              },
              "layer": [
                {"data": {"name": "cov2"},
                 "mark": {"type": "area", "color": "#84a9dd", "interpolate": "linear"}},
                {"data": {"values": [{"bp": 0, "v": 60}]},
                 "mark": {"type": "text", "text": "Without", "align": "left", "baseline": "middle", "fontSize": 16}},
                {"data": {"values": [{"bp": 0, "v": 60}]},
                 "mark": {"type": "text", "text": "Alu", "fontStyle": "italic", "align": "left", "baseline": "middle", "fontSize": 16, "dx": 58.7}},
                {"data": {"values": [{"bp": 0, "v": 60}]},
                 "mark": {"type": "text", "text": "Yb8", "align": "left", "baseline": "middle", "fontSize": 16, "dx": 81.8}}
              ]
            },
            {
              "width": 638.4, "height": 43,
              "encoding": {
                "x": {"field": "s", "type": "quantitative", "scale": {"domain": [-43, 16030], "nice": false, "zero": false}, "axis": null},
                "y": {"field": "tx", "type": "quantitative", "scale": {"domain": [-0.1, 5.05], "nice": false, "zero": false, "reverse": true},
                      "axis": {"title": "ZNF880", "titleAngle": 0, "titleFontStyle": "italic", "titleAlign": "right", "titleBaseline": "middle", "titleX": -7, "titleY": 19.5, "labels": false, "ticks": false, "domain": false}}
              },
              "layer": [
                {"data": {"name": "genes"},
                 "mark": {"type": "rule", "strokeWidth": 1.5, "color": "#000000"},
                 "encoding": {"x2": {"field": "e"}}},
                {"data": {"name": "exons"},
                 "transform": [{"filter": "datum.kind === 'exon'"}],
                 "mark": {"type": "rule", "strokeWidth": 5, "color": "#000000", "strokeCap": "butt"},
                 "encoding": {"x2": {"field": "e"}}},
                {"data": {"name": "exons"},
                 "transform": [{"filter": "datum.kind === 'alu'"}],
                 "mark": {"type": "rule", "strokeWidth": 5, "color": "#9a86cf", "strokeCap": "butt"},
                 "encoding": {"x2": {"field": "e"}}},
                {"data": {"values": [{"s": 14305, "tx": 2.5}]},
                 "mark": {"type": "text", "text": "Alu", "fontStyle": "italic", "align": "left", "baseline": "middle", "fontSize": 16, "color": "#8a76c0"}},
                {"data": {"values": [{"s": 14305, "tx": 2.5}]},
                 "mark": {"type": "text", "text": "Yb8", "align": "left", "baseline": "middle", "fontSize": 16, "color": "#8a76c0", "dx": 23.1}}
              ]
            },
            {
              "width": 638.4, "height": 38,
              "encoding": {
                "x": {"field": "bp", "type": "quantitative", "scale": {"domain": [-43, 16030], "nice": false, "zero": false},
                      "axis": {"values": [0, 5000, 10000, 15000], "format": ",d", "tickSize": 9, "labelPadding": 5, "title": "bp", "titlePadding": 7}},
                "y": {"field": "d", "type": "quantitative", "scale": {"domain": [0, 38], "nice": false, "zero": false, "reverse": true},
                      "axis": {"title": ["splice", "junctions"], "titleAngle": 0, "titleAlign": "center", "titleBaseline": "top", "titleX": -39.4, "titleY": 3, "titleLineHeight": 17.6, "labels": false, "ticks": false, "domain": false}}
              },
              "layer": [
                {"data": {"name": "j2"},
                 "mark": {"type": "line", "interpolate": "natural", "color": "#000000", "strokeWidth": 1.5},
                 "encoding": {"detail": {"field": "j", "type": "nominal"}}},
                {"data": {"name": "jl2"},
                 "transform": [{"filter": "datum.grp === 's'"}],
                 "mark": {"type": "text", "align": "center", "baseline": "middle", "fontSize": 14},
                 "encoding": {"text": {"field": "n"}}},
                {"data": {"name": "jl2"},
                 "transform": [{"filter": "datum.grp === 'b'"}],
                 "mark": {"type": "text", "align": "center", "baseline": "middle", "fontSize": 16.5},
                 "encoding": {"text": {"field": "n"}}}
              ]
            }
          ],
          "spacing": 0,
          "bounds": "flush",
          "resolve": {"scale": {"x": "independent", "y": "independent"}}
        }
      ],
      "spacing": 0,
      "bounds": "flush"
    }
  ],
  "spacing": 239,
  "bounds": "flush",
  "resolve": {"scale": {"x": "independent", "y": "independent"}}
}
